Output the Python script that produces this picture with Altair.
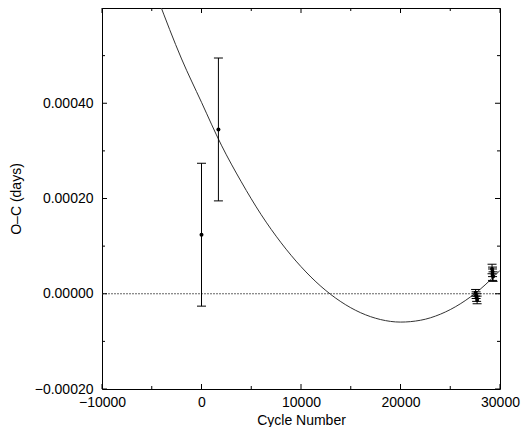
import altair as alt
import pandas as pd

# Observed O-C values
cycle = [0, 1700, 27550, 27600, 27650, 27700, 29200, 29250, 29250, 29300]
oc = [0.000124, 0.000345, 0.000002, -0.000003, -0.000008, -0.000013,
      0.000052, 0.000046, 0.000040, 0.000036]
err = [0.00015, 0.00015, 0.000007, 0.000007, 0.000008, 0.000008,
       0.00001, 0.00001, 0.000012, 0.00001]

# Fitted curve
fit_cycle = [-4400, -2000, 0, 2000, 4000, 6000, 8000, 10000, 12000, 14000,
             16000, 18000, 20000, 22000, 24000, 26000, 28000, 30000]
fit_oc = [0.000620, 0.000493, 0.000402, 0.000312, 0.000235, 0.000166,
          0.000107, 0.0000569, 0.0000156, -0.0000166, -0.0000399, -0.0000542,
          -0.0000595, -0.0000557, -0.0000430, -0.0000213, 0.0000093, 0.0000490]

x_major = [-10000, 0, 10000, 20000, 30000]
x_minor = [-5000, 5000, 15000, 25000]
y_major = [-0.0002, 0.0, 0.0002, 0.0004, 0.0006]
y_minor = [-0.0001, 0.0001, 0.0003, 0.0005]
y_labels = [-0.0002, 0.0, 0.0002, 0.0004]

W, H = 398, 381
FONT = "Liberation Sans"

obs = pd.DataFrame({"cycle": cycle, "oc": oc, "err": err})
obs["lo"] = obs["oc"] - obs["err"]
obs["hi"] = obs["oc"] + obs["err"]
fit = pd.DataFrame({"cycle": fit_cycle, "oc": fit_oc})

xs = alt.Scale(domain=[-10000, 30000], nice=False, zero=False)
ys = alt.Scale(domain=[-0.0002, 0.0006], nice=False, zero=False)

xaxis = alt.Axis(values=x_major, ticks=False, domain=False, grid=False,
                 format="d", labelFont=FONT, labelFontSize=14,
                 labelColor="black", labelPadding=6, titleFont=FONT,
                 titleFontSize=14, titleFontWeight="normal",
                 titleColor="black", titlePadding=4, labelFlush=False,
                 labelOverlap=False)
yaxis = alt.Axis(values=y_labels, ticks=False, domain=False, grid=False,
                 format=".5f", labelFont=FONT, labelFontSize=14,
                 labelColor="black", labelPadding=9, titleFont=FONT,
                 titleFontSize=14, titleFontWeight="normal",
                 titleColor="black", titlePadding=11, labelFlush=False,
                 labelOverlap=False)


def X(field):
    return alt.X(field, scale=xs, axis=xaxis, title="Cycle Number")


def Y(field):
    return alt.Y(field, scale=ys, axis=yaxis, title="O–C (days)")


curve = alt.Chart(fit).mark_line(
    clip=True, color="#333333", strokeWidth=1, interpolate="monotone"
).encode(x=X("cycle:Q"), y=Y("oc:Q"))

zero = alt.Chart(pd.DataFrame({"oc": [0.0]})).mark_rule(
    color="#666666", strokeWidth=1, strokeDash=[2, 1]
).encode(y=Y("oc:Q"))

bars = alt.Chart(obs).mark_rule(color="black", strokeWidth=1).encode(
    x=X("cycle:Q"), y=Y("lo:Q"), y2="hi:Q")
cap_lo = alt.Chart(obs).mark_tick(
    orient="horizontal", size=9, thickness=1, color="black", opacity=1
).encode(x=X("cycle:Q"), y=Y("lo:Q"))
cap_hi = alt.Chart(obs).mark_tick(
    orient="horizontal", size=9, thickness=1, color="black", opacity=1
).encode(x=X("cycle:Q"), y=Y("hi:Q"))
pts = alt.Chart(obs).mark_circle(size=16, color="black", opacity=1).encode(
    x=X("cycle:Q"), y=Y("oc:Q"))


def xticks(vals, length):
    df = pd.DataFrame({"t": vals})
    bottom = alt.Chart(df).mark_rule(color="black", strokeWidth=1).encode(
        x=X("t:Q"), y=alt.value(H), y2=alt.value(H - length))
    top = alt.Chart(df).mark_rule(color="black", strokeWidth=1).encode(
        x=X("t:Q"), y=alt.value(0), y2=alt.value(length))
    return [bottom, top]


def yticks(vals, length):
    df = pd.DataFrame({"t": vals})
    left = alt.Chart(df).mark_rule(color="black", strokeWidth=1).encode(
        y=Y("t:Q"), x=alt.value(0), x2=alt.value(length))
    right = alt.Chart(df).mark_rule(color="black", strokeWidth=1).encode(
        y=Y("t:Q"), x=alt.value(W), x2=alt.value(W - length))
    return [left, right]


tick_layers = (xticks(x_major, 5) + xticks(x_minor, 3)
               + yticks(y_major, 5) + yticks(y_minor, 3))

chart = alt.layer(
    curve, zero, bars, cap_lo, cap_hi, pts, *tick_layers
).properties(
    width=W, height=H,
    autosize=alt.AutoSizeParams(type="none"),
    padding={"left": 94, "top": 0, "right": 22, "bottom": 38},
    background="white",
).configure_view(stroke="black", strokeWidth=1)

chart.save("out.html", embed_options={"renderer": "svg", "actions": False})
